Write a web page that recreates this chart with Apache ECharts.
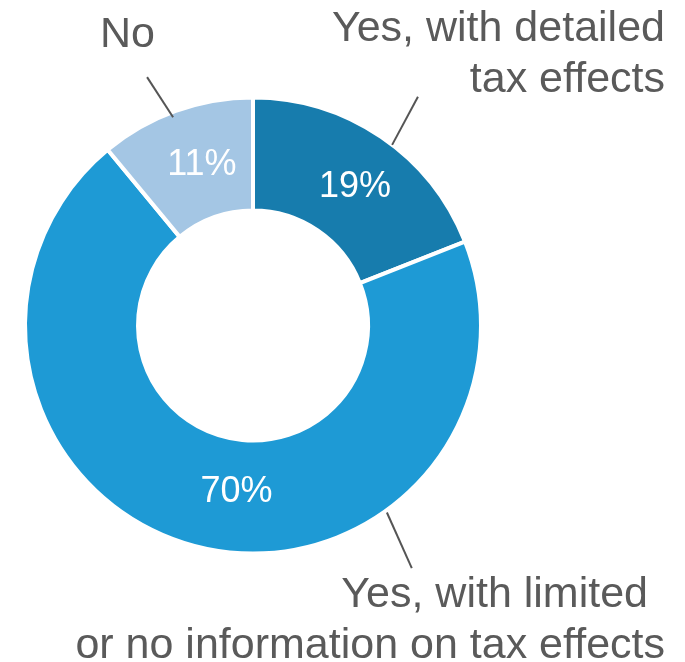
<!DOCTYPE html>
<html>
<head>
<meta charset="utf-8">
<title>Tax effects disclosure</title>
<script src="https://cdn.jsdelivr.net/npm/echarts@6/dist/echarts.min.js"></script>
<style>
  html, body { margin: 0; padding: 0; background: #ffffff; }
  #chart { width: 685px; height: 662px; }
</style>
</head>
<body>
<div id="chart"></div>
<script>
// Share of respondents by type of disclosure (percent)
const categories = [
  'Yes, with detailed\ntax effects',
  'Yes, with limited\nor no information on tax effects',
  'No'
];
const shares = [19, 70, 11];
const sliceColors = ['#177cad', '#1e9ad5', '#a4c6e4'];

// Ring geometry (pixels)
const CX = 253, CY = 325.5, R_OUT = 228, R_IN = 115;
const TEXT_GREY = '#5a5a5a';
const FONT = '"Liberation Sans", Arial, Helvetica, sans-serif';

// Point on the pie plane: angle in degrees clockwise from 12 o'clock
function polar(angleDeg, r) {
  const a = angleDeg * Math.PI / 180;
  return [CX + r * Math.sin(a), CY - r * Math.cos(a)];
}

// Callout placement for each category label and its leader line
const callouts = [
  { x: 665, y: 4,   align: 'right', line: [[35.8, 282], [37.6, 228]] },
  { x: 665, y: 570, align: 'right', line: [[146.8, 290], [144.4, 230]] },
  { x: 100, y: 10,  align: 'left',  line: [[336.9, 270], [339.0, 223]] }
];
// Nudges for the percentage labels inside the ring
const pctNudge = [[4, 6], [27, -2], [8, 4]];

const data = categories.map((name, i) => ({
  name: name,
  value: shares[i],
  itemStyle: { color: sliceColors[i] }
}));

const chart = echarts.init(document.getElementById('chart'), null, { renderer: 'canvas' });

chart.setOption({
  animation: false,
  backgroundColor: '#ffffff',
  series: [
    {
      // ring with percentage labels
      type: 'pie',
      center: [CX, CY],
      radius: [R_IN, R_OUT],
      startAngle: 90,
      clockwise: true,
      avoidLabelOverlap: false,
      silent: true,
      itemStyle: { borderColor: '#ffffff', borderWidth: 4 },
      label: {
        show: true,
        position: 'inside',
        formatter: p => p.value + '%',
        color: '#ffffff',
        fontFamily: FONT,
        fontSize: 36
      },
      labelLine: { show: false },
      labelLayout: p => ({ dx: pctNudge[p.dataIndex][0], dy: pctNudge[p.dataIndex][1] }),
      data: data
    },
    {
      // category callouts
      type: 'pie',
      center: [CX, CY],
      radius: [R_IN, R_OUT],
      startAngle: 90,
      clockwise: true,
      avoidLabelOverlap: false,
      silent: true,
      z: 3,
      itemStyle: { color: 'rgba(0,0,0,0)', borderWidth: 0 },
      label: {
        show: true,
        position: 'outside',
        width: 700,
        overflow: 'none',
        formatter: p => p.name.split('\n')
          .map((line, k) => (p.dataIndex === 1 && k === 0 ? '{tp|' : '{t|') + line + '}')
          .join('\n'),
        rich: {
          t:  { fontFamily: FONT, fontSize: 43, lineHeight: 51, color: TEXT_GREY },
          tp: { fontFamily: FONT, fontSize: 43, lineHeight: 51, color: TEXT_GREY, padding: [0, 17, 0, 0] }
        }
      },
      labelLine: {
        show: true,
        length: 10,
        length2: 10,
        lineStyle: { color: '#555555', width: 2 }
      },
      labelLayout: p => {
        const c = callouts[p.dataIndex];
        return {
          x: c.x,
          y: c.y,
          align: c.align,
          verticalAlign: 'top',
          labelLinePoints: c.line.map(pt => polar(pt[0], pt[1]))
        };
      },
      data: data.map(d => ({ name: d.name, value: d.value }))
    }
  ]
});
</script>
</body>
</html>
